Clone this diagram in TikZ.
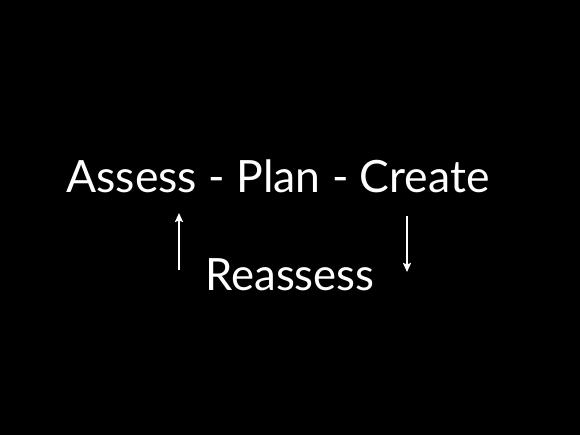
\documentclass[tikz,border=0pt]{standalone}
\usepackage{fontspec}
\setmainfont{Lato}
\usetikzlibrary{arrows.meta}

\begin{document}
\begin{tikzpicture}[x=1pt, y=1pt,
    	 word/.style={text=white, font=\fontsize{44.5}{44.5}\selectfont, inner sep=0pt, anchor=base},
    	 arrow/.style={white, line width=2pt, -{Stealth[length=9pt, width=8pt, inset=1.5pt]}}]

    	 % black page
    	 \fill [black] (0,0) rectangle (580,435);
    	 \useasboundingbox (0,0) rectangle (580,435);

    	 % the words
    	 \node [word] (cycle) at (278,242) {Assess - Plan - Create};
    	 \node [word, xscale=0.98] (reassess) at (290,144) {Reassess};

    	 % ends of the arrows
    	 \coordinate (up start) at (179,165);
    	 \coordinate (up end) at (179,222);
    	 \coordinate (down start) at (407,219);
    	 \coordinate (down end) at (407,163);

    	 \draw [arrow] (up start) -- (up end);
    	 \draw [arrow] (down start) -- (down end);
\end{tikzpicture}
\end{document}
